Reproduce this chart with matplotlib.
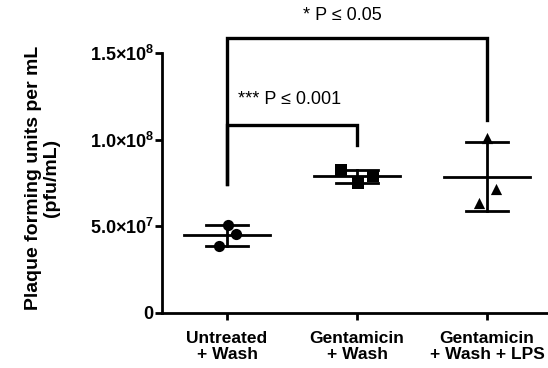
import numpy as np
import matplotlib
matplotlib.use("Agg")
import matplotlib.pyplot as plt
from matplotlib.ticker import FixedLocator, FixedFormatter

plt.rcParams["font.family"] = ["Liberation Sans", "DejaVu Sans"]
plt.rcParams["mathtext.fontset"] = "custom"
plt.rcParams["mathtext.rm"] = "Liberation Sans"
plt.rcParams["mathtext.bf"] = "Liberation Sans:bold"

# data (pfu/mL)
groups = ["Untreated\n+ Wash", "Gentamicin\n+ Wash", "Gentamicin\n+ Wash + LPS"]
untreated = [5.08e7, 4.54e7, 3.87e7]
genta = [8.25e7, 7.90e7, 7.52e7]
genta_lps = [1.01e8, 7.14e7, 6.33e7]
jitter = [[0.01, 0.07, -0.06], [-0.12, 0.12, 0.01], [0.0, 0.07, -0.06]]
markers = ["o", "s", "^"]

yticks = [0, 5e7, 1e8, 1.5e8]
ytick_labels = [r"$\mathbf{0}$", r"$\mathbf{5.0{\times}10^{7}}$",
                r"$\mathbf{1.0{\times}10^{8}}$", r"$\mathbf{1.5{\times}10^{8}}$"]

# significance brackets: (left group, right group, y top, left leg end, right leg end)
brackets = [
    (0, 2, 1.587e8, 7.44e7, 1.113e8),
    (0, 1, 1.085e8, 7.44e7, 9.70e7),
]
sig_labels = ["* P ≤ 0.05", "*** P ≤ 0.001"]

fig = plt.figure(figsize=(5.48, 3.68), dpi=100)
ax = fig.add_axes([162/548, 0.1495, (548-162)/548, 0.7065])

for i, vals in enumerate([untreated, genta, genta_lps]):
    vals = np.array(vals)
    m = vals.mean()
    sd = vals.std(ddof=1)
    ax.plot([i-0.33, i+0.33], [m, m], color="black", lw=2, zorder=2)
    ax.plot([i, i], [m-sd, m+sd], color="black", lw=2, zorder=2)
    for y in (m-sd, m+sd):
        ax.plot([i-0.16, i+0.16], [y, y], color="black", lw=2, zorder=2)
    ax.scatter(np.array(jitter[i]) + i, vals, marker=markers[i],
               s=65, color="black", zorder=3, linewidths=0)

for (a, b, top, la, lb) in brackets:
    ax.plot([a, a, b, b], [la, top, top, lb], color="black", lw=2.4,
            clip_on=False, solid_joinstyle="miter")

ax.text(0.885, 1.719e8, sig_labels[0], ha="center", va="center", fontsize=13)
ax.text(0.085, 1.229e8, sig_labels[1], ha="left", va="center", fontsize=13)

ax.set_xlim(-0.5, 2.469)
ax.set_ylim(0, 1.5e8)
ax.set_xticks(range(3))
ax.set_xticklabels(groups, fontsize=12.5, fontweight="bold", linespacing=1.05)
ax.yaxis.set_major_locator(FixedLocator(yticks))
ax.yaxis.set_major_formatter(FixedFormatter(ytick_labels))

ax.spines["top"].set_visible(False)
ax.spines["right"].set_visible(False)
ax.spines["left"].set_linewidth(2)
ax.spines["bottom"].set_linewidth(2)
ax.tick_params(width=2, length=5)
ax.tick_params(axis="y", labelsize=13, pad=0.5)
ax.tick_params(axis="x", pad=8)

ax.set_ylabel("Plaque forming units per mL\n(pfu/mL)", fontsize=14,
              fontweight="bold", linespacing=1.05)
ax.yaxis.set_label_coords(-0.264, 0.52)

fig.savefig("out.png", dpi=100)
